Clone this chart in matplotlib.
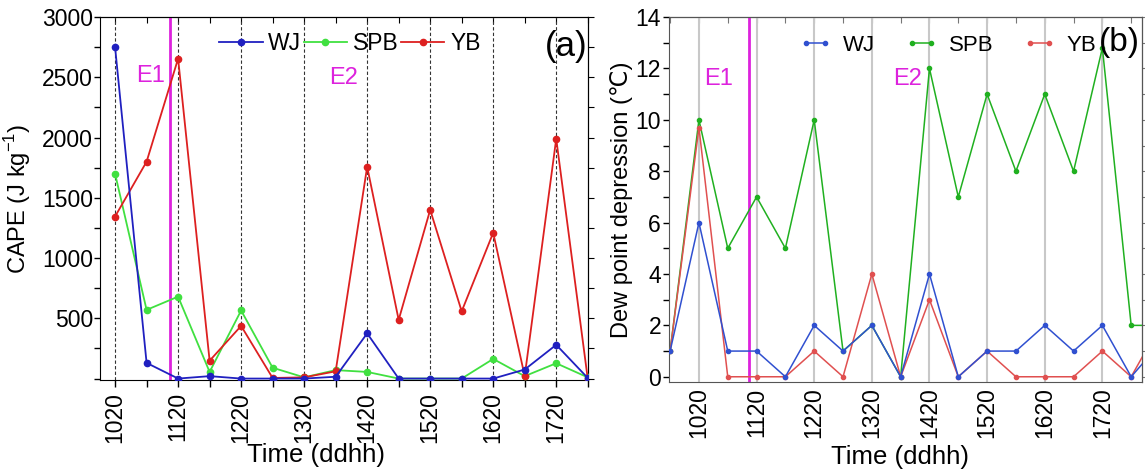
import matplotlib
matplotlib.use("Agg")
import matplotlib.pyplot as plt
from matplotlib.ticker import MultipleLocator

plt.rcParams['font.family'] = ['Liberation Sans', 'DejaVu Sans']

# time labels every 24 h (data every 12 h)
tick_labels = ['1020', '1120', '1220', '1320', '1420', '1520', '1620', '1720']

# (a) CAPE, 1020 .. 1808
cape_x = list(range(0, 16))
cape_wj = [2750, 130, 0, 20, 0, 0, 0, 15, 375, 0, 0, 0, 0, 75, 280, 5]
cape_spb = [1700, 570, 680, 55, 565, 90, 10, 70, 55, 0, 0, 0, 163, 20, 127, 10]
cape_yb = [1345, 1800, 2655, 148, 437, 5, 10, 60, 1758, 487, 1400, 558, 1210, 20, 1990, 0]

# (b) dew point depression, 1008 .. 1820
dpd_x = list(range(-1, 17))
dpd_wj = [1, 6, 1, 1, 0, 2, 1, 2, 0, 4, 0, 1, 1, 2, 1, 2, 0, 1.3]
dpd_spb = [1, 10, 5, 7, 5, 10, 1, 2, 0, 12, 7, 11, 8, 11, 8, 12.8, 2, 2]
dpd_yb = [1, 9.7, 0, 0, 0, 1, 0, 4, 0, 3, 0, 1, 0, 0, 0, 1, 0, 2]

event_x = 1.75  # E1 line

fig = plt.figure(figsize=(11.45, 4.75), dpi=100)
ax1 = fig.add_axes([0.0873, 0.201, 0.426, 0.763])
ax2 = fig.add_axes([0.584, 0.196, 0.413, 0.768])

tfs = 16.5   # tick labels
lfs = 18.5   # x labels
yfs = 17     # y labels
efs = 17     # E1/E2
magenta = '#dd22dd'

# ---- panel a
for x in range(0, 16, 2):
    ax1.axvline(x, color='#333333', ls=(0, (3, 2)), lw=0.8, zorder=1)
ax1.axvline(event_x, color=magenta, lw=2, zorder=2)
ax1.plot(cape_x, cape_wj, color='#2020c0', marker='o', ms=4.5, lw=1.3, label='WJ', zorder=5)
ax1.plot(cape_x, cape_spb, color='#40e040', marker='o', ms=4.5, lw=1.3, label='SPB', zorder=3)
ax1.plot(cape_x, cape_yb, color='#dd2020', marker='o', ms=4.5, lw=1.3, label='YB', zorder=4)
ax1.set_xlim(-0.48, 15)
ax1.set_ylim(-8, 3000)
ax1.set_xticks(range(0, 16, 2))
ax1.set_xticklabels(tick_labels, rotation=90)
ax1.xaxis.set_minor_locator(MultipleLocator(1))
ax1.set_yticks([500, 1000, 1500, 2000, 2500, 3000])
ax1.yaxis.set_minor_locator(MultipleLocator(250))
ax1.tick_params(which='both', direction='out', labelsize=tfs, width=1)
ax1.tick_params(axis='x', which='both', length=5, pad=4)
ax1.tick_params(axis='y', which='both', length=4, pad=1)
sec = ax1.secondary_xaxis('top')
sec.set_xticks(range(0, 16))
sec.tick_params(direction='in', length=4, labeltop=False)
sec.set_xticklabels([])
secy = ax1.secondary_yaxis('right')
secy.set_yticks(range(0, 3001, 250))
secy.tick_params(direction='out', length=4, labelright=False)
secy.set_yticklabels([])
ax1.set_xlabel('Time (ddhh)', fontsize=lfs)
ax1.xaxis.set_label_coords(0.443, -0.175)
ax1.set_ylabel('CAPE (J kg$^{\\mathregular{-1}}$)', fontsize=yfs)
ax1.yaxis.set_label_coords(-0.137, 0.5)
ax1.text(0.074, 0.837, 'E1', transform=ax1.transAxes, color=magenta, fontsize=efs, va='center')
ax1.text(0.47, 0.833, 'E2', transform=ax1.transAxes, color=magenta, fontsize=efs, va='center')
ax1.text(1.0, 0.92, '(a)', transform=ax1.transAxes, fontsize=25, ha='right', va='center')
ax1.legend(loc='center left', bbox_to_anchor=(0.244, 0.928), ncol=3, frameon=False,
           fontsize=16.5, handlelength=1.9, handletextpad=0.25, columnspacing=0.1,
           numpoints=1, borderpad=0, borderaxespad=0)

# ---- panel b
for x in range(0, 16, 2):
    ax2.axvline(x, color='#c8c8c8', lw=1.5, zorder=1)
ax2.axvline(event_x, color=magenta, lw=2, zorder=2)
ax2.plot(dpd_x, dpd_wj, color='#3050d0', marker='o', ms=3, lw=1.1, label='WJ', zorder=5)
ax2.plot(dpd_x, dpd_spb, color='#20b020', marker='o', ms=3, lw=1.1, label='SPB', zorder=3)
ax2.plot(dpd_x, dpd_yb, color='#e05050', marker='o', ms=3, lw=1.1, label='YB', zorder=4)
ax2.set_xlim(-1.05, 15.36)
ax2.set_ylim(-0.2, 14)
ax2.set_xticks(range(0, 16, 2))
ax2.set_xticklabels(tick_labels, rotation=90)
ax2.set_yticks(range(0, 15, 2))
ax2.yaxis.set_minor_locator(MultipleLocator(1))
ax2.tick_params(which='both', labelsize=tfs)
ax2.tick_params(axis='x', which='both', length=0, pad=4)
ax2.tick_params(axis='y', which='both', direction='out', length=4, width=1, pad=1.5)
for sp in ax2.spines.values():
    sp.set_color('#555555')
sec2 = ax2.secondary_xaxis('top')
sec2.set_xticks(range(-1, 16))
sec2.tick_params(direction='in', length=4, labeltop=False, color='#777777')
sec2.set_xticklabels([])
sec2y = ax2.secondary_yaxis('right')
sec2y.set_yticks(range(0, 15))
sec2y.tick_params(direction='out', length=4, labelright=False, color='#777777')
sec2y.set_yticklabels([])
ax2.set_xlabel('Time (ddhh)', fontsize=lfs)
ax2.xaxis.set_label_coords(0.49, -0.174)
ax2.set_ylabel('Dew point depression (\u2103)', fontsize=yfs)
ax2.yaxis.set_label_coords(-0.076, 0.5)
ax2.text(0.076, 0.83, 'E1', transform=ax2.transAxes, color=magenta, fontsize=efs, va='center')
ax2.text(0.474, 0.83, 'E2', transform=ax2.transAxes, color=magenta, fontsize=efs, va='center')
ax2.text(0.996, 0.931, '(b)', transform=ax2.transAxes, fontsize=24, ha='right', va='center')
ax2.legend(loc='center left', bbox_to_anchor=(0.277, 0.923), ncol=3, frameon=False,
           fontsize=16, handlelength=1.45, handletextpad=0.5, columnspacing=1.36,
           numpoints=2, borderpad=0, borderaxespad=0)

fig.savefig('out.png', dpi=100)
